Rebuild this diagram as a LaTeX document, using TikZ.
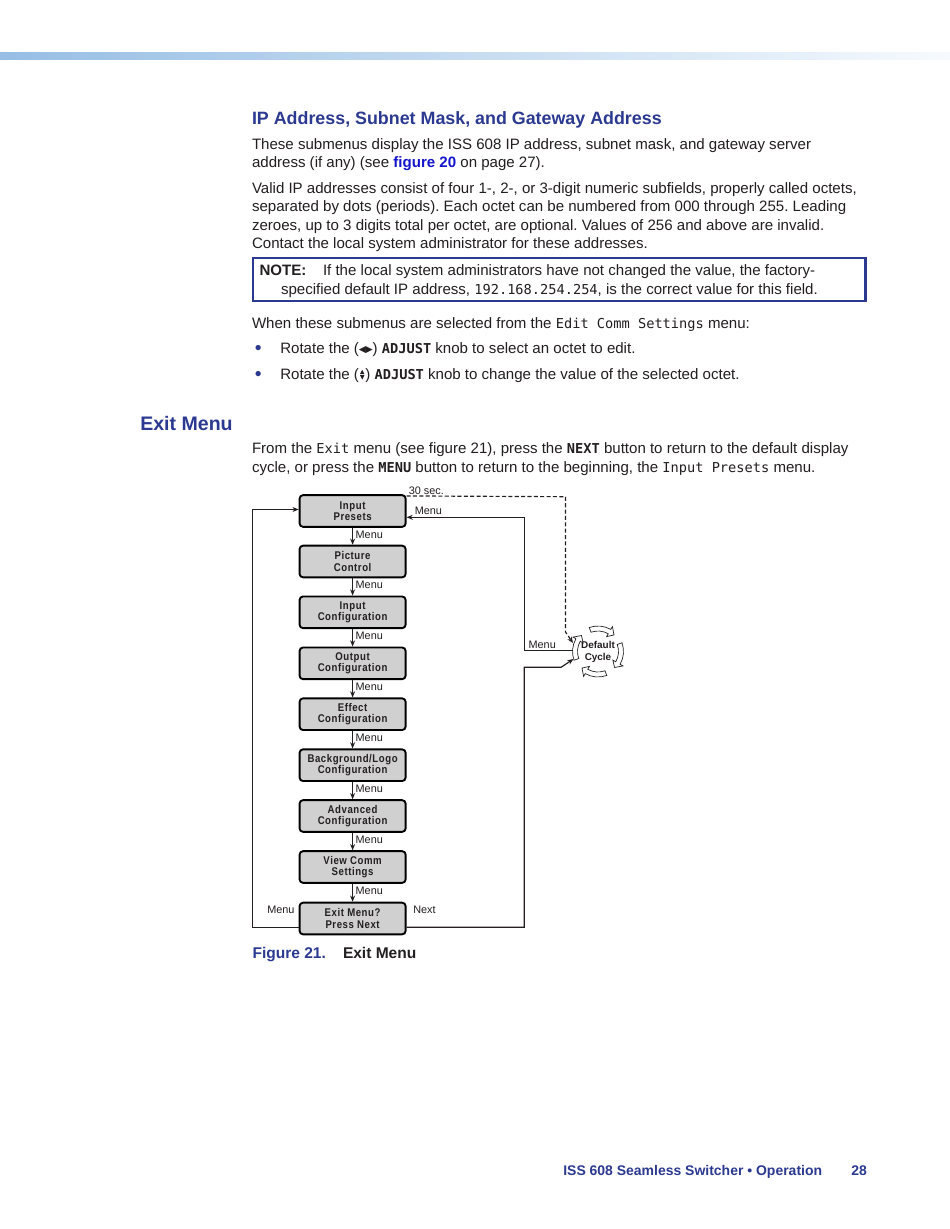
\documentclass[tikz,border=0pt]{standalone}
\usepackage{fontspec}
\setmainfont{Liberation Sans}
\newfontfamily\monof{DejaVu Sans Mono}
\newfontfamily\symf{DejaVu Sans}
\newfontfamily\boxf{Liberation Sans}[FakeStretch=0.86,LetterSpace=5]
\usetikzlibrary{arrows.meta,calc}
\definecolor{navy}{RGB}{43,57,144}
\definecolor{linkb}{RGB}{20,20,205}
\definecolor{boxgray}{RGB}{208,208,208}
\definecolor{ink}{RGB}{35,31,32}
\definecolor{barL}{RGB}{150,190,228}
\definecolor{barR}{RGB}{246,250,254}
\frenchspacing
\newcommand{\mn}[1]{{\monof\fontsize{8.8}{10}\selectfont #1}}
\newcommand{\mnb}[1]{{\monof\bfseries\fontsize{8.8}{10}\selectfont #1}}
\newcommand{\lr}{{\symf\fontsize{6}{6}\selectfont\raisebox{0.5pt}{◀\kern-0.4pt▶}}}
\tikzset{
  txt/.style={anchor=base west, inner sep=0pt, text=ink, font=\fontsize{9.7}{12}\selectfont},
  head/.style={anchor=base west, inner sep=0pt, text=navy, font=\bfseries\fontsize{11.5}{13}\selectfont},
  mbox/.style={draw=black, line width=1.2pt, fill=boxgray, rounded corners=2.2pt,
    minimum width=68.3pt, minimum height=20.4pt, inner sep=0pt, align=center,
    text=ink, font=\boxf\bfseries\fontsize{7.2}{7.3}\selectfont},
  conn/.style={line width=0.75pt, draw=ink},
  arr/.style={conn, -{Stealth[length=4pt,width=3.2pt]}},
  lbl/.style={inner sep=0pt, text=ink, font=\fontsize{7}{8}\selectfont},
  cyc/.style={fill=white, draw=ink, line width=0.45pt, line join=miter},
}
\begin{document}
\begin{tikzpicture}[x=0.6442pt,y=-0.6442pt]
\fill[white] (0,0) rectangle (950,1229);
\useasboundingbox (0,0) rectangle (950,1229);
\shade[left color=barL, right color=barR] (0,52) rectangle (950,59);

% ---- text above the figure
\node[head] (h1) at (251.7,124) {IP Address, Subnet Mask, and Gateway Address};
\node[txt] (p1) at (251.7,149.3) {These submenus display the ISS 608 IP address, subnet mask, and gateway server};
\node[txt] (p2) at (251.7,167.7) {address (if any) (see {\bfseries\color{linkb}figure 20} on page 27).};
\node[txt] (p3) at (251.7,193.3) {Valid IP addresses consist of four 1-, 2-, or 3-digit numeric subfields, properly called octets,};
\node[txt] (p4) at (251.7,211.8) {separated by dots (periods). Each octet can be numbered from 000 through 255. Leading};
\node[txt] (p5) at (251.7,230.3) {zeroes, up to 3 digits total per octet, are optional. Values of 256 and above are invalid.};
\node[txt] (p6) at (251.7,248.8) {Contact the local system administrator for these addresses.};

\draw[navy, line width=1.75pt] (253,258) rectangle (865.3,301);
\node[txt, font=\bfseries\fontsize{9.7}{12}\selectfont] (n0) at (259.3,275.7) {NOTE:};
\node[txt] (n1) at (322.7,275.7) {If the local system administrators have not changed the value, the factory-};
\node[txt] (n2) at (280.7,294) {specified default IP address, \mn{192.168.254.254}, is the correct value for this field.};

\node[txt] (w1) at (251.7,328.3) {When these submenus are selected from the \mn{Edit Comm Settings} menu:};
\node[txt, text=navy, font=\fontsize{12.5}{12}\selectfont] (bl1) at (254.5,354) {•};
\node[txt] (w2) at (280,353.3) {Rotate the (\lr) \mnb{ADJUST} knob to select an octet to edit.};
\node[txt, text=navy, font=\fontsize{12.5}{12}\selectfont] (bl2) at (254.5,380) {•};
\node[txt] (w3a) at (280,379.3) {Rotate the (};
\fill[ink] ($(w3a.base east)+(0.7,-5.1)$) -- ++(4.4,0) -- ++(-2.2,-4.4) -- cycle;
\fill[ink] ($(w3a.base east)+(0.7,-4.1)$) -- ++(4.4,0) -- ++(-2.2,4.4) -- cycle;
\node[txt] (w3b) at ($(w3a.base east)+(5.8,0)$) {) \mnb{ADJUST} knob to change the value of the selected octet.};

\node[head, font=\bfseries\fontsize{12.6}{14}\selectfont] (h2) at (140,430) {Exit Menu};
\node[txt] (e1) at (251.7,453.5) {From the \mn{Exit} menu (see figure 21), press the \mnb{NEXT} button to return to the default display};
\node[txt] (e2) at (251.7,472) {cycle, or press the \mnb{MENU} button to return to the beginning, the \mn{Input Presets} menu.};

% ---- figure 21
\node[mbox] (b1) at (352.6,511) {Input\\Presets};
\node[mbox] (b2) at (352.6,561.5) {Picture\\Control};
\node[mbox] (b3) at (352.6,612.3) {Input\\Configuration};
\node[mbox] (b4) at (352.6,663.3) {Output\\Configuration};
\node[mbox] (b5) at (352.6,714.2) {Effect\\Configuration};
\node[mbox] (b6) at (352.6,765.2) {Background/Logo\\Configuration};
\node[mbox] (b7) at (352.6,816) {Advanced\\Configuration};
\node[mbox] (b8) at (352.6,867) {View Comm\\Settings};
\node[mbox] (b9) at (352.6,918.5) {Exit Menu?\\Press Next};

\foreach \a/\b in {b1/b2,b2/b3,b3/b4,b4/b5,b5/b6,b6/b7,b7/b8,b8/b9}{
  \draw[arr] (\a.south) -- (\b.north) node[lbl, midway, anchor=west, xshift=1.6pt, yshift=1.2pt] {Menu};
}

% default cycle
\node[inner sep=0pt, align=center, text=ink, font=\bfseries\fontsize{6.4}{7.6}\selectfont] (dc) at (598,652) {Default\\Cycle};
\begin{scope}[shift={(598,651.5)}]
\foreach \a in {250,340,70,160}{
  \pgfmathsetmacro{\b}{\a+50}
  \pgfmathsetmacro{\c}{\a+64}
  \filldraw[cyc] (\a:25.5) arc[start angle=\a, end angle=\b, radius=25.5] -- (\b:28.8)
     -- (\c:23) -- (\b:17.2) -- (\b:20.5) arc[start angle=\b, end angle=\a, radius=20.5] -- cycle;
}
\end{scope}

\coordinate (lc) at (252.3,509.5);
\coordinate (rc) at (524.3,667.3);
\coordinate (rk) at (561,667.3);
\coordinate (nt) at (573.5,659);
\coordinate (mc) at (573,650.7);
\coordinate (mk) at (524.3,650.7);
\coordinate (dk1) at (565.5,496.7);
\coordinate (dk2) at (565.5,632);
\coordinate (dt) at (573,643);

\draw[arr] ($(b9.west)+(0,8.8)$) -| (lc) -- (lc -| b1.west);
\draw[arr] ($(b9.east)+(0,8.8)$) -| (rc) -- (rk) -- (nt);
\draw[arr] (mc) -- (mk) |- ($(b1.east)+(0,6.3)$);
\draw[arr, dashed, dash pattern=on 2.6pt off 1.5pt] ($(b1.north east)+(0,1.7)$) -- (dk1) -- (dk2) -- (dt);

\node[lbl, anchor=base west] (l30) at (408.5,494) {30 sec.};
\node[lbl, anchor=base west] (lm1) at (414.5,514) {Menu};
\node[lbl, anchor=base west] (lm2) at (528.3,648) {Menu};
\node[lbl, anchor=base west] (lm3) at (267,913) {Menu};
\node[lbl, anchor=base west] (ln) at (413,913) {Next};

% caption
\node[txt, text=navy, font=\bfseries\fontsize{10}{12}\selectfont] (c1) at (252.3,958.3) {Figure 21.};
\node[txt, font=\bfseries\fontsize{10}{12}\selectfont] (c2) at (342.7,958.3) {Exit Menu};

% footer
\node[txt, text=navy, font=\bfseries\fontsize{9}{11}\selectfont] (f1) at (563,1175) {ISS 608 Seamless Switcher • Operation};
\node[txt, text=navy, font=\bfseries\fontsize{9}{11}\selectfont] (f2) at (851,1175) {28};
\end{tikzpicture}
\end{document}
